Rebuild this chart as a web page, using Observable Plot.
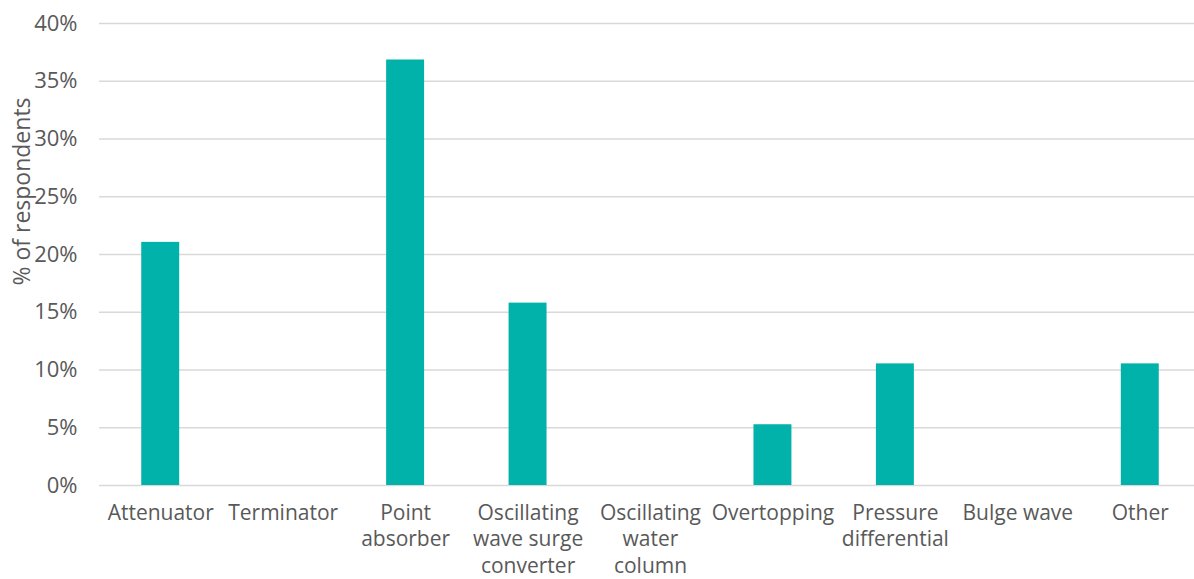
<!DOCTYPE html>
<html>
<head>
<meta charset="utf-8">
<script src="https://cdn.jsdelivr.net/npm/d3@7"></script>
<script src="https://cdn.jsdelivr.net/npm/@observablehq/plot@0.6"></script>
<style>
  html, body { margin: 0; padding: 0; background: #ffffff; }
  #chart { width: 1194px; height: 579px; }
</style>
</head>
<body>
<div id="chart"></div>
<script>
// Wave energy converter types: share of survey respondents (%)
const categories = [
  "Attenuator",
  "Terminator",
  "Point\nabsorber",
  "Oscillating\nwave surge\nconverter",
  "Oscillating\nwater\ncolumn",
  "Overtopping",
  "Pressure\ndifferential",
  "Bulge wave",
  "Other"
];
const shares = [21.05, 0, 36.84, 15.79, 0, 5.26, 10.53, 0, 10.53];
const yTicks = [0, 5, 10, 15, 20, 25, 30, 35, 40];
const yLabel = "% of respondents";

const rows = categories.map((c, i) => ({category: c, share: shares[i]}));

const fontFamily = "'Open Sans', 'Liberation Sans', sans-serif";
const textGray = "#595959";

const chart = Plot.plot({
  width: 1194,
  height: 579,
  marginTop: 23,
  marginBottom: 94,
  marginLeft: 99,
  marginRight: 0,
  style: {fontFamily, fontSize: "21px", color: textGray, background: "#ffffff"},
  x: {domain: categories, range: [99, 1201], paddingInner: 0.69, paddingOuter: 0.345, align: 0.5, round: false},
  y: {domain: [0, 40], ticks: yTicks},
  marks: [
    Plot.ruleY(yTicks, {stroke: "#d9d9d9", strokeWidth: 1.5}),
    Plot.barY(rows, {x: "category", y: "share", fill: "#00b2a9"}),
    Plot.axisY({
      ticks: yTicks,
      tickSize: 0,
      tickPadding: 22,
      tickFormat: d => d + "%",
      label: null,
      fill: textGray,
      fontSize: 22
    }),
    Plot.axisX({
      tickSize: 0,
      tickPadding: 16,
      label: null,
      fill: textGray,
      fontSize: 21,
      lineHeight: 1.25,
      lineWidth: Infinity
    }),
    Plot.text([yLabel], {
      frameAnchor: "left",
      rotate: -90,
      textAnchor: "middle",
      dx: -77,
      dy: -63,
      fill: textGray,
      fontSize: 23
    })
  ]
});

document.getElementById("chart").appendChild(chart);
</script>
</body>
</html>
